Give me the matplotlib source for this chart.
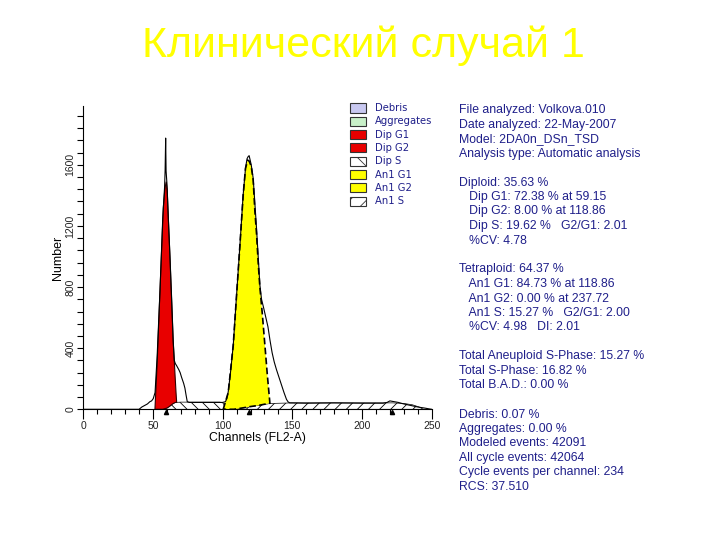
import matplotlib
matplotlib.use("Agg")
import matplotlib.pyplot as plt
from matplotlib.patches import Rectangle
from matplotlib.ticker import MultipleLocator

# measured histogram (black outline)
data_ch = [0, 40, 42, 44, 46, 47.8, 49, 50.2, 51.5, 53, 55, 57, 58.3, 58.7, 59.1, 59.4, 60, 61,
           62.2, 63.5, 64.5, 65.3, 66, 67, 68.5, 69.5, 70.5, 72, 72.9, 73.8, 74.6, 76, 90, 100,
           102, 103, 104, 105.5, 107.6, 110, 112.4, 114.7, 116.4, 117.5, 118.3, 119, 119.5, 120.5,
           121.9, 123.1, 124.3, 125.5, 126.7, 127.9, 129.5, 131, 132.5, 134, 135.5, 137, 138.6,
           140.4, 142.2, 144, 145.8, 147, 148.2, 160, 180, 200, 215, 218, 220, 223, 226, 230, 235,
           240, 245, 248, 250]
data_cnt = [0, 0, 15, 25, 35, 50, 55, 70, 110, 350, 770, 1250, 1450, 1560, 1775, 1560, 1480, 1250,
            1000, 700, 450, 320, 300, 285, 260, 240, 210, 170, 139, 90, 50, 45, 45, 45,
            50, 70, 115, 230, 420, 750, 1076, 1403, 1578, 1640, 1654, 1660, 1640, 1600,
            1513, 1350, 1185, 1000, 814, 720, 660, 600, 540, 450, 370, 310, 260,
            210, 160, 110, 65, 48, 42, 40, 42, 40, 40, 45, 55, 50, 45, 35, 25,
            15, 8, 3, 0]

# Dip S (hatched \)
dips_ch = [57, 60, 62, 64, 66, 70, 80, 90, 98, 100.5, 102]
dips_cnt = [0, 8, 20, 35, 45, 47, 47, 47, 47, 40, 0]

# An1 S (hatched /)
an1s_ch = [108, 115, 120, 126, 134, 150, 180, 210, 222, 230, 236, 241, 244]
an1s_cnt = [0, 10, 18, 26, 38, 42, 42, 42, 42, 38, 30, 15, 0]

# Dip G1 (red) outline
dipg1_ch = [51.4, 53, 55, 57.4, 58.5, 59.5, 60.2, 62.2, 64.5, 66.5, 67, 66, 64, 62, 60, 57]
dipg1_cnt = [0, 300, 770, 1318, 1440, 1490, 1440, 990, 443, 115, 45, 45, 35, 20, 8, 0]

# An1 G1 (yellow) outline
an1g1_ch = [100.4, 104, 107.6, 110, 112.4, 114.7, 116.4, 118, 119, 120.5, 121.9, 123.1, 124.3,
            125.5, 126.7, 128.5, 130.3, 132.1, 133.9, 126, 120, 115, 108]
an1g1_cnt = [0, 110, 420, 750, 1076, 1400, 1578, 1630, 1625, 1590, 1500, 1300, 1150,
             960, 800, 620, 420, 220, 40, 26, 18, 10, 0]

peak_pos = [59.15, 118.86, 221.8]

legend_labels = ["Debris", "Aggregates", "Dip G1", "Dip G2", "Dip S", "An1 G1", "An1 G2", "An1 S"]
legend_colors = ["#c8c8f0", "#c8f0c8", "#e80000", "#e80000", "white", "#ffff00", "#ffff00", "white"]
legend_hatch = [None, None, None, None, "\\", None, None, "//"]

info_lines = [
    "File analyzed: Volkova.010",
    "Date analyzed: 22-May-2007",
    "Model: 2DA0n_DSn_TSD",
    "Analysis type: Automatic analysis",
    "",
    "Diploid: 35.63 %",
    "   Dip G1: 72.38 % at 59.15",
    "   Dip G2: 8.00 % at 118.86",
    "   Dip S: 19.62 %   G2/G1: 2.01",
    "   %CV: 4.78",
    "",
    "Tetraploid: 64.37 %",
    "   An1 G1: 84.73 % at 118.86",
    "   An1 G2: 0.00 % at 237.72",
    "   An1 S: 15.27 %   G2/G1: 2.00",
    "   %CV: 4.98   DI: 2.01",
    "",
    "Total Aneuploid S-Phase: 15.27 %",
    "Total S-Phase: 16.82 %",
    "Total B.A.D.: 0.00 %",
    "",
    "Debris: 0.07 %",
    "Aggregates: 0.00 %",
    "Modeled events: 42091",
    "All cycle events: 42064",
    "Cycle events per channel: 234",
    "RCS: 37.510",
]

W, H = 720, 540
navy = "#1f1f8a"
plt.rcParams["hatch.linewidth"] = 0.6
fig = plt.figure(figsize=(7.2, 5.4), dpi=100)

fig.text(363 / W, 1 - 46 / H, "Клинический случай 1", color="#ffff00", fontsize=31,
         family="Liberation Sans", ha="center", va="center")

ax = fig.add_axes([83.3 / W, 1 - 409.3 / H, (431.7 - 83.3) / W, (409.3 - 106) / H])
ax.fill(dips_ch, dips_cnt, facecolor="white", edgecolor="black", hatch="\\\\\\", lw=0.5)
ax.fill(an1s_ch, an1s_cnt, facecolor="white", edgecolor="black", hatch="///", lw=0.5)
ax.fill(dipg1_ch, dipg1_cnt, facecolor="#e80000", edgecolor="#300000", lw=0.8)
ax.fill(an1g1_ch, an1g1_cnt, facecolor="#ffff00", edgecolor="black", lw=1.2, linestyle=(0, (4, 2)))
ax.plot(data_ch, data_cnt, color="black", lw=0.8)
ax.plot(peak_pos, [-18] * len(peak_pos), "^", color="black", ms=3, clip_on=False)

ax.set_xlim(0, 250)
ax.set_ylim(0, 1985)
for s in ["top", "right"]:
    ax.spines[s].set_visible(False)
ax.xaxis.set_major_locator(MultipleLocator(50))
ax.xaxis.set_minor_locator(MultipleLocator(10))
ax.yaxis.set_major_locator(MultipleLocator(400))
ax.yaxis.set_minor_locator(MultipleLocator(80))
ax.tick_params(axis="x", which="major", length=7, width=0.8, pad=1.5, labelsize=7.5, labelcolor="#222222")
ax.tick_params(axis="x", which="minor", length=3.5, width=0.8)
ax.tick_params(axis="y", which="major", length=4, width=0.8, pad=1.5, labelsize=7.5, labelcolor="#222222")
ax.tick_params(axis="y", which="minor", length=4, width=0.8)
for lab in ax.get_yticklabels():
    lab.set_rotation(90)
    lab.set_va("center")
for lab in ax.get_xticklabels() + ax.get_yticklabels():
    lab.set_family("Liberation Sans")
ax.set_xlabel("Channels (FL2-A)", family="Liberation Sans", fontsize=8.8, labelpad=1)
ax.set_ylabel("Number", family="Liberation Sans", fontsize=9, labelpad=1)

# legend boxes
for i, (lab, col, h) in enumerate(zip(legend_labels, legend_colors, legend_hatch)):
    yc = 108 + i * 13.3
    r = Rectangle((350 / W, 1 - (yc + 4.5) / H), 16 / W, 9 / H, transform=fig.transFigure,
                  facecolor=col, edgecolor="#333333", lw=0.8, hatch=h)
    fig.add_artist(r)
    fig.text(375 / W, 1 - yc / H, lab, color=navy, fontsize=7.2, family="DejaVu Sans", va="center")

# analysis text
for i, line in enumerate(info_lines):
    if line:
        fig.text(459 / W, 1 - (110 + i * 14.5) / H, line, color=navy, fontsize=8.8,
                 family="Liberation Sans", va="center")

fig.savefig("out.png", dpi=100)
